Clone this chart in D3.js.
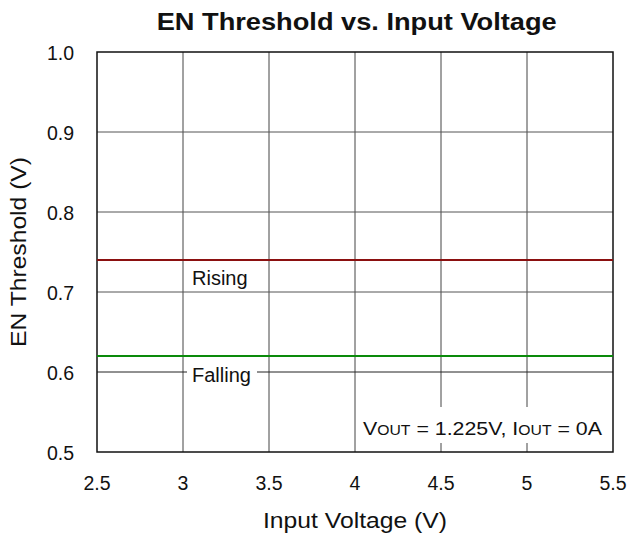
<!DOCTYPE html>
<html><head><meta charset="utf-8">
<script src="https://cdn.jsdelivr.net/npm/d3@7"></script>
<style>body{margin:0;background:#fff}svg{display:block}text{font-family:"Liberation Sans",Arial,sans-serif;fill:#111}</style>
</head><body>
<script>
const vin = [2.5, 3, 3.5, 4, 4.5, 5, 5.5];
const rising = [0.74, 0.74, 0.74, 0.74, 0.74, 0.74, 0.74];
const falling = [0.62, 0.62, 0.62, 0.62, 0.62, 0.62, 0.62];
const xTicks = [2.5, 3, 3.5, 4, 4.5, 5, 5.5];
const yTicks = [0.5, 0.6, 0.7, 0.8, 0.9, 1.0];
const title = "EN Threshold vs. Input Voltage";
const xTitle = "Input Voltage (V)";
const yTitle = "EN Threshold (V)";

const W = 629, H = 535;
const m = {l: 97, r: 16, t: 52, b: 83};
const svg = d3.select("body").append("svg").attr("width", W).attr("height", H);
const x = d3.scaleLinear().domain([2.5, 5.5]).range([m.l, W - m.r]);
const y = d3.scaleLinear().domain([0.5, 1.0]).range([H - m.b, m.t]);

// grid
const g = svg.append("g");
g.selectAll(".vg").data(xTicks.slice(1, -1)).join("line")
  .attr("x1", d => x(d)).attr("x2", d => x(d)).attr("y1", y(1)).attr("y2", y(0.5))
  .attr("stroke", "#444").attr("stroke-width", 1);
g.selectAll(".hg").data(yTicks.slice(1, -1)).join("line")
  .attr("x1", x(2.5)).attr("x2", x(5.5)).attr("y1", d => y(d)).attr("y2", d => y(d))
  .attr("stroke", d => d === 0.6 ? "#222" : "#555").attr("stroke-width", 1);

// frame
svg.append("rect").attr("x", x(2.5)).attr("y", y(1)).attr("width", x(5.5) - x(2.5)).attr("height", y(0.5) - y(1))
  .attr("fill", "none").attr("stroke", "#111").attr("stroke-width", 1.5);

// lines
const line = d3.line().x((d, i) => x(vin[i])).y(d => y(d));
svg.append("path").datum(rising).attr("d", line).attr("fill", "none").attr("stroke", "#8b1010").attr("stroke-width", 2.2);
svg.append("path").datum(falling).attr("d", line).attr("fill", "none").attr("stroke", "#0a8a0a").attr("stroke-width", 2.2);

function label(txt, px, py, x0, x1) {
  svg.append("rect").attr("x", x0).attr("y", py - 16).attr("width", x1 - x0).attr("height", 21).attr("fill", "#fff");
  svg.append("text").attr("x", px).attr("y", py).attr("font-size", 20).text(txt);
}
label("Rising", 192, 285, 191, 254);
label("Falling", 192, 382, 187, 257);

// conditions box
svg.append("rect").attr("x", x(4) + 1).attr("y", 407).attr("width", x(5.5) - x(4) - 2).attr("height", 36).attr("fill", "#fff");
const ct = svg.append("text").attr("x", 363).attr("y", 435).attr("font-size", 19);
ct.append("tspan").text("V");
ct.append("tspan").attr("font-size", 14).text("OUT");
ct.append("tspan").text(" = 1.225V, I");
ct.append("tspan").attr("font-size", 14).text("OUT");
ct.append("tspan").text(" = 0A");
ct.attr("textLength", 239).attr("lengthAdjust", "spacingAndGlyphs");

// axes labels
svg.selectAll(".xt").data(xTicks).join("text")
  .attr("x", d => x(d)).attr("y", y(0.5) + 38).attr("text-anchor", "middle").attr("font-size", 19.5).text(d => d);
svg.selectAll(".yt").data(yTicks).join("text")
  .attr("x", 74).attr("y", d => y(d) + 8).attr("text-anchor", "end").attr("font-size", 19.5).text(d => d.toFixed(1));

svg.append("text").attr("x", 356.7).attr("y", 29.5).attr("text-anchor", "middle").attr("font-size", 24.5).attr("font-weight", "bold")
  .attr("textLength", 400).attr("lengthAdjust", "spacingAndGlyphs").text(title);
svg.append("text").attr("x", 355).attr("y", 528).attr("text-anchor", "middle").attr("font-size", 22.5)
  .attr("textLength", 184).attr("lengthAdjust", "spacingAndGlyphs").text(xTitle);
svg.append("text").attr("transform", `translate(26,252) rotate(-90)`).attr("text-anchor", "middle").attr("font-size", 22.5)
  .attr("textLength", 190).attr("lengthAdjust", "spacingAndGlyphs").text(yTitle);
</script>
</body></html>
